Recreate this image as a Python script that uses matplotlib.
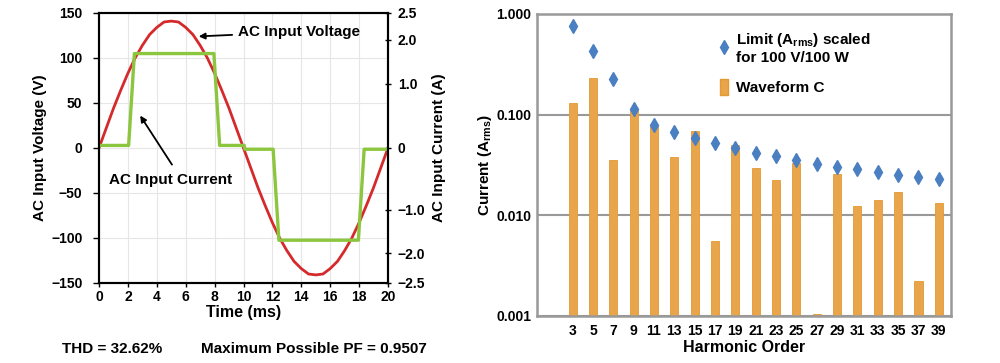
import numpy as np
import matplotlib
matplotlib.use("Agg")
import matplotlib.pyplot as plt
from matplotlib.lines import Line2D
from matplotlib.patches import Patch

plt.rcParams['font.family'] = ['Liberation Sans', 'DejaVu Sans']
plt.rcParams['font.weight'] = 'bold'
plt.rcParams['axes.labelweight'] = 'bold'
plt.rcParams['mathtext.default'] = 'regular'

# ---- left panel data ----
t_volt = [0, 0.5, 1, 1.5, 2, 2.5, 3, 3.5, 4, 4.5, 5, 5.5, 6, 6.5, 7, 7.5, 8, 8.5, 9, 9.5, 10,
          10.5, 11, 11.5, 12, 12.5, 13, 13.5, 14, 14.5, 15, 15.5, 16, 16.5, 17, 17.5, 18, 18.5, 19, 19.5, 20]
volt = [0, 22, 44, 64, 83, 100, 114, 126, 134, 140, 141, 140, 134, 126, 114, 100, 83, 64, 44, 22, 0,
        -22, -44, -64, -83, -100, -114, -126, -134, -140, -141, -140, -134, -126, -114, -100, -83, -64, -44, -22, 0]

t_cur = [0, 2.05, 2.45, 7.95, 8.35, 10.05, 10.1, 12.05, 12.45, 17.95, 18.35, 20]
i_cur = [0.04, 0.04, 1.69, 1.69, 0.04, 0.04, -0.02, -0.02, -1.70, -1.70, -0.02, -0.02]

# right axis of the left panel is not linear: current tick -> voltage-axis position
amp_ticks = [-2.5, -2.0, -1.0, 0, 1.0, 2.0, 2.5]
amp_pos = [-150, -117, -68.5, 0, 71.4, 120, 150]
amp_labels = ['\u22122.5', '\u22122.0', '\u22121.0', '0', '1.0', '2.0', '2.5']

# ---- right panel data ----
orders = [3, 5, 7, 9, 11, 13, 15, 17, 19, 21, 23, 25, 27, 29, 31, 33, 35, 37, 39]
waveform_c = [0.130, 0.229, 0.0352, 0.114, 0.0773, 0.0383, 0.0695, 0.0055, 0.0497, 0.0293,
              0.0224, 0.0328, 0.00104, 0.0259, 0.0123, 0.0142, 0.0170, 0.00221, 0.0134]
limit = [0.765, 0.425, 0.225, 0.114, 0.0797, 0.0673, 0.0591, 0.0520, 0.0463, 0.0420,
         0.0386, 0.0355, 0.0326, 0.0304, 0.0286, 0.0269, 0.0253, 0.0240, 0.0228]

red = '#d42a2c'
green = '#8cc63e'
orange = '#e8a54c'
blue = '#4a7fc1'

fig = plt.figure(figsize=(10, 3.63), dpi=100)

# ---------------- left panel ----------------
ax = fig.add_axes([0.099, 0.2204, 0.289, 0.7438])
ax.plot(t_volt, volt, color=red, lw=2)
ax.set_xlim(0, 20)
ax.set_ylim(-150, 150)
ax.set_xticks(range(0, 21, 2))
ax.set_yticks([-150, -100, -50, 0, 50, 100, 150])
ax.set_yticklabels(['\u2212150', '\u2212100', '\u221250', '0', '50', '100', '150'])
ax.grid(True, color='#e6e6e6', lw=0.8)
ax.set_axisbelow(True)
for s in ax.spines.values():
    s.set_linewidth(1.5)
ax.tick_params(labelsize=10, length=3, width=1, pad=2)
ax.tick_params(axis='y', length=4, pad=8)
ax.set_xlabel('Time (ms)', fontsize=11.5, labelpad=1)
ax.set_ylabel('AC Input Voltage (V)', fontsize=11, labelpad=3)

ax2 = ax.twinx()
fwd = lambda a: np.interp(a, amp_ticks, amp_pos)
inv = lambda v: np.interp(v, amp_pos, amp_ticks)
ax2.set_yscale('function', functions=(fwd, inv))
ax2.plot(t_cur, i_cur, color=green, lw=2.4)
ax2.set_ylim(-2.5, 2.5)
ax2.set_yticks(amp_ticks)
ax2.set_yticklabels(amp_labels)
ax2.yaxis.set_minor_locator(matplotlib.ticker.NullLocator())
ax2.tick_params(labelsize=10, length=4, width=1, direction='inout', pad=5)
ax2.set_ylabel('AC Input Current (A)', fontsize=11, rotation=90, labelpad=5)
for s in ax2.spines.values():
    s.set_linewidth(1.5)

ax.annotate('AC Input Voltage', xy=(6.9, 124), xytext=(9.6, 129), fontsize=11,
            va='center', ha='left',
            arrowprops=dict(arrowstyle='-|>', color='black', lw=1.3, shrinkA=2, shrinkB=0,
                            mutation_scale=9))
ax.annotate('AC Input Current', xy=(2.85, 36), xytext=(0.7, -36), fontsize=11,
            va='center', ha='left', zorder=5)
ax.annotate('', xy=(2.85, 36), xytext=(5.05, -18.5),
            arrowprops=dict(arrowstyle='-|>', color='black', lw=1.3, shrinkA=0, shrinkB=0,
                            mutation_scale=9))

fig.text(0.062, 0.038, 'THD = 32.62%', fontsize=11, va='center', ha='left')
fig.text(0.201, 0.038, 'Maximum Possible PF = 0.9507', fontsize=11, va='center', ha='left')

# ---------------- right panel ----------------
bx = fig.add_axes([0.537, 0.1295, 0.414, 0.832])
bx.set_yscale('log')
bx.bar(orders, np.array(waveform_c) - 0.001, width=0.8, bottom=0.001, color=orange,
       edgecolor='#e39a32', lw=0.6, zorder=2)
bx.plot(orders, limit, ls='', marker='d', markersize=7.5, color=blue, zorder=3)
bx.set_ylim(0.001, 1)
bx.set_xlim(-0.5, 40.2)
bx.set_xticks(orders)
bx.set_xticklabels([str(o) for o in orders])
bx.set_yticks([0.001, 0.01, 0.1, 1])
bx.set_yticklabels(['0.001', '0.010', '0.100', '1.000'])
bx.yaxis.set_minor_locator(matplotlib.ticker.NullLocator())
bx.grid(True, axis='y', color='#999999', lw=1.5)
bx.set_axisbelow(True)
for s in bx.spines.values():
    s.set_color('#999999')
    s.set_linewidth(1.8)
bx.tick_params(labelsize=10, length=0, pad=6)
bx.tick_params(axis='y', pad=4)
bx.set_xlabel('Harmonic Order', fontsize=11.5, labelpad=1)
bx.set_ylabel('Current (A$_{rms}$)', fontsize=11, labelpad=2)

handles = [Line2D([], [], ls='', marker='d', markersize=7.5, color=blue),
           Patch(facecolor=orange, edgecolor='#e39a32')]
labels = ['Limit (A$_{rms}$) scaled\nfor 100 V/100 W', 'Waveform C']
bx.legend(handles, labels, loc='upper left', bbox_to_anchor=(0.41, 0.99), frameon=False,
          fontsize=11, handlelength=0.5, handleheight=1.3, handletextpad=0.5,
          labelspacing=0.9)

fig.savefig('out.png', dpi=100)
